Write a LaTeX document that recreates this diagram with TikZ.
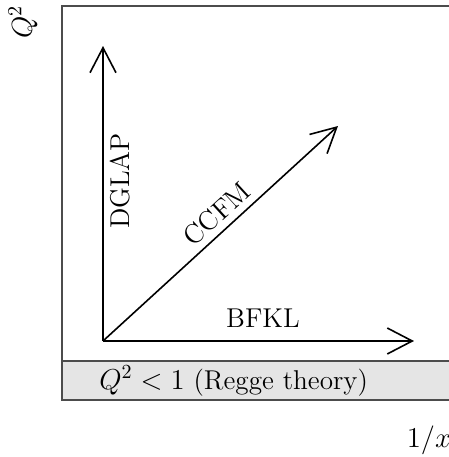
\documentclass[tikz,border=0pt]{standalone}
\usepackage{amsmath}
\usepackage{xcolor}
\usepackage{tikz}
\usetikzlibrary{arrows.meta}

\begin{document}
\begin{tikzpicture}[x=0.5pt,y=0.5pt,
  axisarrow/.style={black,line width=0.8pt,-{Straight Barb[length=12.5pt,width=13pt,line width=0.8pt]}},
  lbl/.style={font=\fontsize{13.6}{16}\selectfont,inner sep=0pt}]
\useasboundingbox (0,0) rectangle (449,457);
\coordinate (O) at (103,116);
\coordinate (Vt) at (103,411);
\coordinate (Ht) at (414,116);
\coordinate (Dt) at (338,331);
% regge band and frame
\fill[black!10] (62,57) rectangle (470,96);
\draw[black!70,line width=0.75pt] (470,451) -- (62,451) -- (62,57) -- (470,57);
\draw[black!70,line width=0.75pt] (62,96) -- (470,96);
% evolution arrows
\draw[axisarrow] (O) -- (Vt);
\draw[axisarrow] (O) -- (Ht);
\draw[axisarrow] (O) -- (Dt);
\node[lbl,rotate=90] (dglap) at (120,276) {DGLAP};
\node[lbl,rotate=42.5] (ccfm) at (217,243) {CCFM};
\node[lbl] (bfkl) at (263,139) {BFKL};
\node[lbl,anchor=west] (regge) at (99,76) {$Q^2<1$ (Regge theory)};
\node[lbl,rotate=90] (qsq) at (23,435) {$Q^2$};
\node[lbl] (invx) at (429,17) {$1/x$};
\end{tikzpicture}
\end{document}
